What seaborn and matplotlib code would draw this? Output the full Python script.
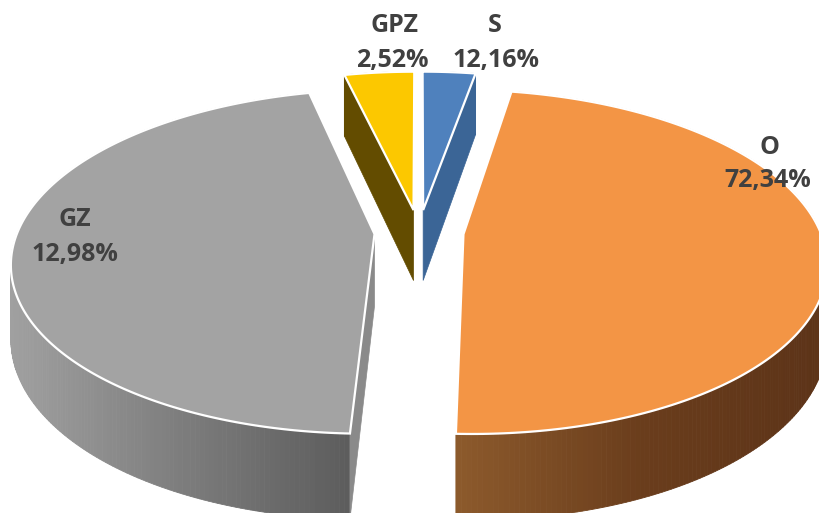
import numpy as np
import matplotlib.pyplot as plt
import seaborn as sns
from matplotlib.patches import Polygon

sns.set_theme(style="white")
plt.rcParams['font.family'] = ['Open Sans', 'DejaVu Sans']

names = ["S", "O", "GZ", "GPZ"]
labels = ["12,16%", "72,34%", "12,98%", "2,52%"]
# drawn share of the circle, the printed labels do not match the drawn slices
shares = [2.8, 47.8, 45.7, 3.7]
explode = [0.135, 0.125, 0.125, 0.135]
top_colors = ["#4f81bd", "#f39545", "#a3a3a3", "#fcc800"]
cut_colors = ["#3b6596", "#7d4f24", "#8a8a8a", "#634c00"]
# wall colours, left to right on the picture
wall_colors = [("#3b6596", "#3b6596"), ("#8c5a2c", "#6a3d1c", "#5c3318"), ("#a0a0a0", "#7d7d7d", "#5c5c5c"), ("#634c00", "#634c00")]

cx, cy = 419, 232
R, b, a = 357, 167, 0.16
depth = 72


def project(X, Y, z=0.0):
    s = 1 / (1 - a * Y)
    return cx + R * X * s, cy + (b * Y + z) * s


fig = plt.figure(figsize=(8.2, 5.13), dpi=100)
ax = fig.add_axes([0, 0, 1, 1])
ax.set_xlim(0, 820)
ax.set_ylim(513, 0)
ax.axis("off")

edges = np.cumsum([0] + shares) * 3.6
slices = []
for i in range(len(names)):
    t0, t1 = np.radians(edges[i]), np.radians(edges[i + 1])
    mid = (t0 + t1) / 2
    ox, oy = explode[i] * np.sin(mid), -explode[i] * np.cos(mid)
    slices.append((t0, t1, ox, oy))

# back slices first
for i in [3, 0, 2, 1]:
    t0, t1, ox, oy = slices[i]
    th = np.linspace(t0, t1, 240)
    X = np.sin(th) + ox
    Y = -np.cos(th) + oy

    # outer wall, shaded by x position
    pal = sns.blend_palette(wall_colors[i], 256)
    xt, yt = project(X, Y)
    xmin, xmax = xt.min(), xt.max()
    for k in range(len(th) - 1):
        xs, ys = project(X[k:k + 2], Y[k:k + 2])
        xb, yb = project(X[k:k + 2], Y[k:k + 2], depth)
        col = pal[int(255 * (xs.mean() - xmin) / (xmax - xmin))]
        pts = [(xs[0], ys[0]), (xs[1], ys[1]), (xb[1], yb[1]), (xb[0], yb[0])]
        ax.add_patch(Polygon(pts, closed=True, fc=col, ec=col, lw=0.6, zorder=2))

    # cut faces
    edge_th = {0: t1, 2: t0, 3: t0}.get(i)
    if edge_th is not None:
        ex, ey = np.sin(edge_th) + ox, -np.cos(edge_th) + oy
        p1 = project(ox, oy)
        p2 = project(ex, ey)
        p3 = project(ex, ey, depth)
        p4 = project(ox, oy, depth)
        ax.add_patch(Polygon([p1, p2, p3, p4], closed=True, fc=cut_colors[i], ec=cut_colors[i], lw=0.5, zorder=3))

    # top face
    tx, ty = project(ox, oy)
    top = list(zip(xt, yt)) + [(tx, ty)]
    ax.add_patch(Polygon(top, closed=True, fc=top_colors[i], ec="white", lw=1.6, zorder=4))

name_pos = [(495, 25), (770, 147), (75, 220), (395, 25)]
value_pos = [(496, 60), (768, 181), (75, 255), (392, 60)]
for i in range(len(names)):
    ax.text(*name_pos[i], names[i], ha="center", va="center", fontsize=18, fontweight="bold", color="#404040", zorder=6)
    ax.text(*value_pos[i], labels[i], ha="center", va="center", fontsize=18, fontweight="bold", color="#404040", zorder=6)

fig.savefig("out.png", dpi=100)
